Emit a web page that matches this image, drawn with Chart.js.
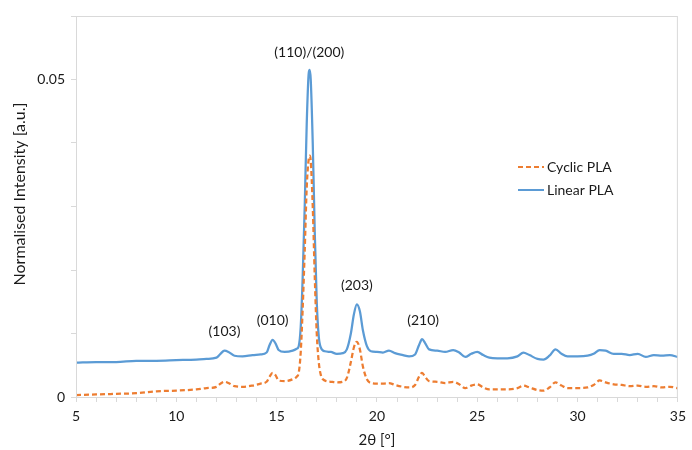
<!DOCTYPE html>
<html>
<head>
<meta charset="utf-8">
<script src="https://cdn.jsdelivr.net/npm/chart.js@4/dist/chart.umd.min.js"></script>
<style>
  html, body { margin: 0; padding: 0; background: #fff; }
  #wrap { width: 692px; height: 450px; }
</style>
</head>
<body>
<div id="wrap"><canvas id="chart" width="692" height="450"></canvas></div>
<script>
// 2theta positions (deg)
var theta = [
  5, 6, 7, 8, 9, 10, 11, 11.5, 12, 12.2,
  12.4, 12.6, 12.9, 13.3, 13.8, 14.2, 14.5, 14.65, 14.8, 14.95,
  15.1, 15.4, 15.8, 16.0, 16.1, 16.2, 16.3, 16.4, 16.5, 16.6,
  16.65, 16.7, 16.8, 16.9, 17.0, 17.1, 17.2, 17.4, 17.7, 18.0,
  18.3, 18.5, 18.7, 18.85, 19.0, 19.15, 19.3, 19.5, 19.7, 20.0,
  20.3, 20.6, 20.9, 21.3, 21.6, 21.9, 22.1, 22.25, 22.4, 22.6,
  23.0, 23.4, 23.8, 24.1, 24.4, 24.7, 25.0, 25.3, 25.6, 26.0,
  26.5, 27.0, 27.3, 27.6, 28.0, 28.3, 28.6, 28.9, 29.2, 29.5,
  30.0, 30.5, 30.8, 31.1, 31.4, 31.8, 32.2, 32.6, 33.0, 33.4,
  33.8, 34.2, 34.6, 35.0
]

var linearPLA = [
  0.0054, 0.0055, 0.0055, 0.0057, 0.0057, 0.0058, 0.0059, 0.0060, 0.0062, 0.0068,
  0.0073, 0.0071, 0.0065, 0.0064, 0.0066, 0.0067, 0.0070, 0.0082, 0.0090, 0.0084,
  0.0074, 0.0071, 0.0073, 0.0076, 0.0080, 0.0110, 0.0190, 0.0300, 0.0430, 0.0510,
  0.0515, 0.0500, 0.0400, 0.0260, 0.0150, 0.0095, 0.0078, 0.0072, 0.0071, 0.0068,
  0.0069, 0.0075, 0.0100, 0.0130, 0.0146, 0.0135, 0.0105, 0.0080, 0.0072, 0.0071,
  0.0070, 0.0073, 0.0069, 0.0066, 0.0064, 0.0067, 0.0082, 0.0091, 0.0085, 0.0075,
  0.0073, 0.0071, 0.0074, 0.0070, 0.0063, 0.0068, 0.0071, 0.0066, 0.0062, 0.0061,
  0.0061, 0.0064, 0.0070, 0.0066, 0.0060, 0.0059, 0.0065, 0.0075, 0.0068, 0.0064,
  0.0064, 0.0065, 0.0068, 0.0074, 0.0073, 0.0068, 0.0068, 0.0066, 0.0068, 0.0063,
  0.0066, 0.0065, 0.0066, 0.0063
]

var cyclicPLA = [
  0.0003, 0.0004, 0.0005, 0.0006, 0.0009, 0.0010, 0.0012, 0.0014, 0.0016, 0.0021,
  0.0024, 0.0022, 0.0017, 0.0016, 0.0018, 0.0021, 0.0024, 0.0032, 0.0038, 0.0034,
  0.0026, 0.0025, 0.0028, 0.0032, 0.0038, 0.0070, 0.0140, 0.0230, 0.0330, 0.0375,
  0.0380, 0.0372, 0.0300, 0.0190, 0.0100, 0.0055, 0.0035, 0.0026, 0.0024, 0.0023,
  0.0024, 0.0030, 0.0055, 0.0078, 0.0087, 0.0075, 0.0048, 0.0028, 0.0022, 0.0021,
  0.0021, 0.0022, 0.0019, 0.0016, 0.0015, 0.0019, 0.0032, 0.0038, 0.0032, 0.0025,
  0.0024, 0.0022, 0.0024, 0.0020, 0.0014, 0.0018, 0.0020, 0.0015, 0.0012, 0.0012,
  0.0012, 0.0014, 0.0018, 0.0015, 0.0011, 0.0010, 0.0015, 0.0023, 0.0018, 0.0014,
  0.0014, 0.0015, 0.0019, 0.0026, 0.0023, 0.0020, 0.0019, 0.0017, 0.0018, 0.0016,
  0.0017, 0.0015, 0.0016, 0.0014
]

// peak labels: text, 2theta, intensity where the label sits
var peakLabels = ['(103)', '(010)', '(110)/(200)', '(203)', '(210)']
var peakX = [12.4, 14.8, 16.63, 19.0, 22.3]
var peakY = [0.0103, 0.0121, 0.0542, 0.0176, 0.0121]

var yTickLabels = ['0', '0.05']

var FONT = 'Lato, "Open Sans", sans-serif'
var TEXT = '#1a1a1a'

function toXY(xs, ys) {
  var out = []
  for (var i = 0; i < xs.length; i++) out.push({ x: xs[i], y: ys[i] })
  return out
}

var extras = {
  id: 'extras',
  afterDraw: function (chart) {
    var ctx = chart.ctx
    var a = chart.chartArea
    var xs = chart.scales.x, ys = chart.scales.y
    ctx.save()
    // plot frame
    ctx.strokeStyle = '#d9d9d9'
    ctx.lineWidth = 1
    ctx.strokeRect(a.left + 0.5, a.top + 0.5, a.right - a.left - 1, a.bottom - a.top)

    ctx.fillStyle = TEXT
    ctx.font = '14px ' + FONT
    ctx.textAlign = 'center'
    ctx.textBaseline = 'middle'
    for (var i = 0; i < peakLabels.length; i++) {
      ctx.fillText(peakLabels[i], xs.getPixelForValue(peakX[i]), ys.getPixelForValue(peakY[i]))
    }

    // axis titles
    ctx.font = '15px ' + FONT
    ctx.fillText('2\u03b8 [\u00b0]', (a.left + a.right) / 2, 440)
    ctx.save()
    ctx.translate(20, 194)
    ctx.rotate(-Math.PI / 2)
    ctx.font = '16px ' + FONT
    ctx.fillText('Normalised Intensity [a.u.]', 0, 0)
    ctx.restore()

    // legend
    ctx.font = '14px ' + FONT
    var ds = chart.data.datasets
    var ly = [167, 190]
    ctx.textAlign = 'left'
    for (var j = 0; j < ds.length; j++) {
      ctx.beginPath()
      ctx.strokeStyle = ds[j].borderColor
      ctx.lineWidth = 2
      ctx.setLineDash(ds[j].borderDash || [])
      ctx.moveTo(518, ly[j])
      ctx.lineTo(544, ly[j])
      ctx.stroke()
      ctx.setLineDash([])
      ctx.fillStyle = TEXT
      ctx.fillText(ds[j].label, 547, ly[j])
    }
    ctx.restore()
  }
}

var chart = new Chart(document.getElementById('chart').getContext('2d'), {
  type: 'line',
  data: {
    datasets: [
      {
        label: 'Cyclic PLA',
        data: toXY(theta, cyclicPLA),
        borderColor: '#ED7D31',
        borderWidth: 2.25,
        borderDash: [5, 3],
        pointRadius: 0,
        fill: false,
        cubicInterpolationMode: 'monotone'
      },
      {
        label: 'Linear PLA',
        data: toXY(theta, linearPLA),
        borderColor: '#5B9BD5',
        borderWidth: 2.25,
        pointRadius: 0,
        fill: false,
        cubicInterpolationMode: 'monotone'
      }
    ]
  },
  options: {
    responsive: false,
    animation: false,
    layout: { padding: { left: 0, top: 16, right: 7, bottom: 0 } },
    plugins: { legend: { display: false }, tooltip: { enabled: false } },
    scales: {
      x: {
        type: 'linear',
        min: 5, max: 35,
        border: { color: '#d9d9d9' },
        grid: { drawOnChartArea: false, drawTicks: true, tickLength: 5, color: '#d9d9d9' },
        ticks: {
          stepSize: 1, autoSkip: false, maxRotation: 0, padding: 6,
          color: TEXT, font: { family: FONT, size: 14 },
          callback: function (v) { return v % 5 === 0 ? String(v) : '' }
        },
        afterFit: function (s) { s.height = 53 }
      },
      y: {
        min: 0, max: 0.06,
        border: { color: '#d9d9d9' },
        grid: { drawOnChartArea: false, drawTicks: true, tickLength: 5, color: '#d9d9d9' },
        ticks: {
          stepSize: 0.01, autoSkip: false, padding: 6,
          color: TEXT, font: { family: FONT, size: 14 },
          callback: function (v) {
            var r = Math.round(v * 100)
            if (r === 0) return yTickLabels[0]
            if (r === 5) return yTickLabels[1]
            return ''
          }
        },
        afterFit: function (s) { s.width = 76 }
      }
    }
  },
  plugins: [extras]
})
</script>
</body>
</html>
